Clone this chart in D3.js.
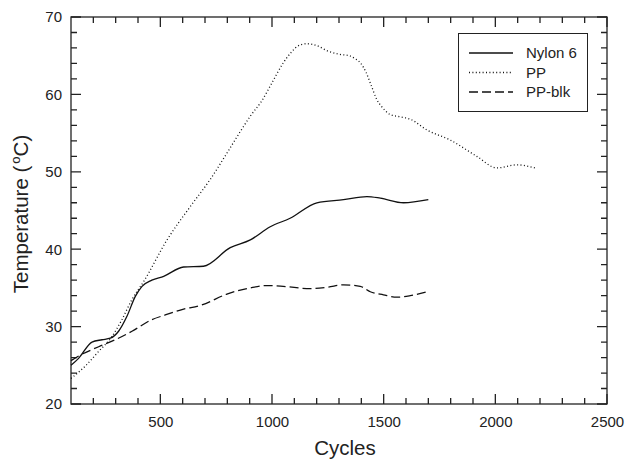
<!DOCTYPE html>
<html lang="en">
<head>
<meta charset="UTF-8">
<title>Temperature vs Cycles</title>
<script src="https://cdnjs.cloudflare.com/ajax/libs/d3/7.8.5/d3.min.js"></script>
<style>
    body { margin: 0; background: #fff; }
    svg { display: block; font-family: "Liberation Sans", Arial, sans-serif; }
</style>
</head>
<body>
<svg width="625" height="460"></svg>
<script>
    // Series
    const nylonX = [100, 134, 194, 239, 276, 313, 350, 388, 418, 462, 515, 604, 693, 813, 903, 992, 1081, 1201, 1320, 1425, 1485, 1589, 1700];
    const nylonY = [25.0, 25.9, 28.0, 28.3, 28.5, 29.4, 31.3, 33.9, 35.2, 36.0, 36.5, 37.7, 37.8, 40.2, 41.2, 42.9, 44.0, 46.0, 46.4, 46.8, 46.6, 46.0, 46.4];

    const ppX = [100, 164, 224, 283, 328, 373, 425, 530, 634, 723, 798, 858, 903, 955, 1000, 1051, 1085, 1126, 1156, 1201, 1250, 1298, 1346, 1373, 1395, 1422, 1443, 1470, 1489, 1507, 1529, 1574, 1619, 1694, 1798, 1917, 2007, 2096, 2178];
    const ppY = [23.3, 24.9, 26.8, 28.7, 30.9, 33.5, 35.8, 41.2, 45.5, 49.0, 52.4, 55.2, 57.2, 59.2, 61.5, 64.1, 65.4, 66.4, 66.55, 66.3, 65.6, 65.2, 65.0, 64.6, 64.1, 62.8, 61.25, 59.3, 58.5, 57.9, 57.4, 57.1, 56.8, 55.4, 54.1, 52.0, 50.5, 50.9, 50.5];

    const blkX = [100, 134, 224, 298, 373, 462, 522, 597, 686, 798, 903, 977, 1050, 1171, 1250, 1320, 1395, 1440, 1499, 1559, 1619, 1694];
    const blkY = [25.6, 26.2, 27.4, 28.3, 29.4, 30.9, 31.5, 32.2, 32.8, 34.2, 35.0, 35.3, 35.2, 34.9, 35.1, 35.4, 35.2, 34.5, 34.1, 33.8, 34.0, 34.5];

    const seriesNames = ["Nylon 6", "PP", "PP-blk"];
    const xTicks = [500, 1000, 1500, 2000, 2500];
    const yTicks = [20, 30, 40, 50, 60, 70];

    const svg = d3.select("svg");
    const margin = { left: 71, right: 18, top: 17, bottom: 56 };
    const W = 625, H = 460;

    const x = d3.scaleLinear().domain([100, 2500]).range([margin.left, W - margin.right]);
    const y = d3.scaleLinear().domain([20, 70]).range([H - margin.bottom, margin.top]);

    const xMinor = d3.range(200, 2500, 100).filter(v => v % 500 !== 0);
    const yMinor = d3.range(22, 70, 2).filter(v => v % 10 !== 0);

    const pBottom = y.range()[0], pTop = y.range()[1];
    const pLeft = x.range()[0], pRight = x.range()[1];

    const g = svg.append("g");

    // frame
    g.append("rect")
        .attr("x", pLeft).attr("y", pTop)
        .attr("width", pRight - pLeft).attr("height", pBottom - pTop)
        .attr("fill", "none").attr("stroke", "#222").attr("stroke-width", 1.3);

    // all ticks point inward; drawn as one path
    const tickPath = [];
    xMinor.forEach(v => {
        tickPath.push(`M${x(v)},${pBottom}V${pBottom - 6}`);
        tickPath.push(`M${x(v)},${pTop}V${pTop + 6}`);
    });
    xTicks.forEach(v => {
        tickPath.push(`M${x(v)},${pBottom}V${pBottom - 10}`);
        tickPath.push(`M${x(v)},${pTop}V${pTop + 10}`);
    });
    yMinor.forEach(v => {
        tickPath.push(`M${pLeft},${y(v)}H${pLeft + 6}`);
        tickPath.push(`M${pRight},${y(v)}H${pRight - 6}`);
    });
    yTicks.forEach(v => {
        tickPath.push(`M${pLeft},${y(v)}H${pLeft + 10}`);
        tickPath.push(`M${pRight},${y(v)}H${pRight - 10}`);
    });
    g.append("path")
        .attr("d", tickPath.join(""))
        .attr("fill", "none")
        .attr("stroke", "#222")
        .attr("stroke-width", 1.3);

    // tick labels
    const fmt = d3.format("d");
    const xAxis = g.append("g")
        .attr("transform", `translate(0,${pBottom})`)
        .call(d3.axisBottom(x).tickValues(xTicks).tickSize(0).tickPadding(12).tickFormat(fmt));
    const yAxis = g.append("g")
        .attr("transform", `translate(${pLeft},0)`)
        .call(d3.axisLeft(y).tickValues(yTicks).tickSize(0).tickPadding(9).tickFormat(fmt));

    [xAxis, yAxis].forEach(a => {
        a.select(".domain").remove();
        a.selectAll(".tick line").remove();
        a.selectAll(".tick text").attr("font-size", 15).attr("fill", "#222")
            .attr("font-family", "Liberation Sans, Arial, sans-serif");
    });

    // lines
    const styles = [
        { dash: null, w: 1.3 },
        { dash: "1,2.4", w: 1.3 },
        { dash: "9,4", w: 1.3 }
    ];
    const data = [
        d3.zip(nylonX, nylonY),
        d3.zip(ppX, ppY),
        d3.zip(blkX, blkY)
    ];
    const line = d3.line().x(d => x(d[0])).y(d => y(d[1])).curve(d3.curveMonotoneX);

    data.forEach((d, i) => {
        g.append("path")
            .datum(d)
            .attr("d", line)
            .attr("fill", "none")
            .attr("stroke", "#111")
            .attr("stroke-width", styles[i].w)
            .attr("stroke-dasharray", styles[i].dash);
    });

    // legend
    const lg = g.append("g");
    lg.append("rect")
        .attr("x", 458.5).attr("y", 33.5).attr("width", 129).attr("height", 78)
        .attr("fill", "#fff").attr("stroke", "#222").attr("stroke-width", 1);
    seriesNames.forEach((name, i) => {
        const yy = 53 + i * 19.5;
        lg.append("path")
            .attr("d", `M469,${yy}H513`)
            .attr("fill", "none")
            .attr("stroke", "#111").attr("stroke-width", styles[i].w)
            .attr("stroke-dasharray", styles[i].dash);
        lg.append("text")
            .attr("x", 526).attr("y", yy).attr("dy", "0.35em")
            .attr("font-size", 15).attr("fill", "#222")
            .text(name);
    });

    // axis titles
    svg.append("text")
        .attr("x", 345).attr("y", 455)
        .attr("text-anchor", "middle")
        .attr("font-size", 20.5).attr("fill", "#222")
        .text("Cycles");

    const yt = svg.append("text")
        .attr("transform", `translate(27.5,214) rotate(-90)`)
        .attr("text-anchor", "middle")
        .attr("font-size", 20.5).attr("fill", "#222");
    yt.append("tspan").text("Temperature (");
    yt.append("tspan").attr("font-size", 13).attr("dx", 2).attr("dy", -8).text("o");
    yt.append("tspan").attr("dy", 8).text("C)");
</script>
</body>
</html>
